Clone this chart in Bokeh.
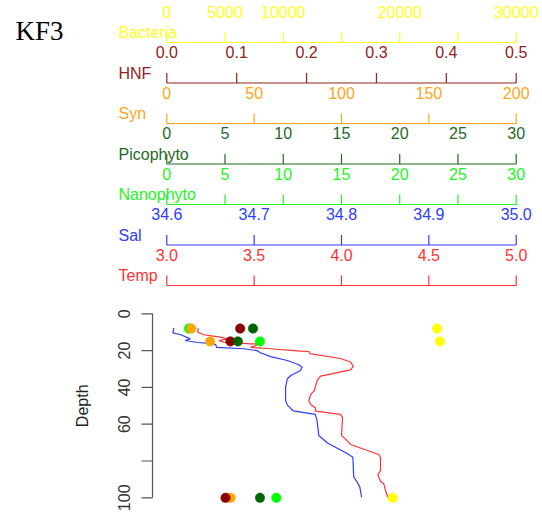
import math
from bokeh.plotting import figure
from bokeh.models import Range1d
from bokeh.core.properties import value
from bokeh.embed import file_html
from bokeh.resources import INLINE

# ---- station KF3: sample depths and counts ----
sample_depth = [8, 15, 100]
bacteria = [23200, 23450, 19400]
hnf = [0.105, 0.091, 0.084]
syn = [14.0, 24.8, 36.5]
picophyto = [7.4, 6.1, 8.0]
nanophyto = [1.9, 8.0, 9.4]

# ---- CTD profiles ----
temp_depth = [7.8, 10.0, 11.4, 12.7, 13.6, 14.5, 15.4, 15.8, 16.3, 16.3, 18.2, 19.0,
              20.3, 20.5, 21.6, 24.3, 26.2, 28.6, 30.5, 33.9, 36.3, 41.7, 43.9, 47.1,
              49.3, 51.1, 52.9, 54.7, 56.4, 66.1, 67.2, 71.0, 76.5, 78.1, 85.2, 87.3,
              91.0, 92.4, 96.0, 99.7]
temp = [3.180, 3.177, 3.212, 3.307, 3.346, 3.298, 3.326, 3.403, 3.479, 3.536, 3.479, 3.594,
        3.765, 3.813, 3.819, 3.994, 4.052, 4.067, 4.052, 3.880, 3.860, 3.845, 3.823, 3.813,
        3.823, 3.851, 3.851, 3.994, 4.006, 4.000, 4.013, 4.052, 4.213, 4.223, 4.223, 4.208,
        4.223, 4.242, 4.252, 4.265]
sal_depth = [7.6, 10.4, 11.4, 13.6, 14.5, 15.6, 16.1, 16.7, 18.3, 19.0, 20.0, 21.2,
             23.3, 25.4, 27.7, 29.0, 30.8, 33.5, 35.3, 39.9, 45.3, 47.1, 49.6, 52.8,
             54.7, 58.0, 66.1, 70.2, 76.1, 77.9, 88.8, 91.5, 94.2, 99.7]
sal = [34.608, 34.607, 34.616, 34.627, 34.621, 34.635, 34.650, 34.656, 34.657, 34.688,
       34.703, 34.707, 34.719, 34.738, 34.751, 34.755, 34.753, 34.742, 34.738, 34.736,
       34.736, 34.736, 34.738, 34.745, 34.770, 34.772, 34.774, 34.784, 34.807, 34.813,
       34.814, 34.818, 34.821, 34.823]

# ---- stacked scales: name, colour, limits, ticks, tick labels ----
scale_names = ["Bacteria", "HNF", "Syn", "Picophyto", "Nanophyto", "Sal", "Temp"]
scale_colors = ["#FFFF1A", "#932222", "#FFA51A", "#1F6A1F", "#22F522", "#2F3CFF", "#FF3333"]
scale_limits = [(0, 30000), (0.0, 0.5), (0, 200), (0, 30), (0, 30), (34.6, 35.0), (3.0, 5.0)]
scale_ticks = [
    [0, 5000, 10000, 15000, 20000, 25000, 30000],
    [0.0, 0.1, 0.2, 0.3, 0.4, 0.5],
    [0, 50, 100, 150, 200],
    [0, 5, 10, 15, 20, 25, 30],
    [0, 5, 10, 15, 20, 25, 30],
    [34.6, 34.7, 34.8, 34.9, 35.0],
    [3.0, 3.5, 4.0, 4.5, 5.0],
]
scale_label_at = [
    [0, 5000, 10000, 20000, 30000],
    [0.0, 0.1, 0.2, 0.3, 0.4, 0.5],
    [0, 50, 100, 150, 200],
    [0, 5, 10, 15, 20, 25, 30],
    [0, 5, 10, 15, 20, 25, 30],
    [34.6, 34.7, 34.8, 34.9, 35.0],
    [3.0, 3.5, 4.0, 4.5, 5.0],
]
scale_label_text = [
    ["0", "5000", "10000", "20000", "30000"],
    ["0.0", "0.1", "0.2", "0.3", "0.4", "0.5"],
    ["0", "50", "100", "150", "200"],
    ["0", "5", "10", "15", "20", "25", "30"],
    ["0", "5", "10", "15", "20", "25", "30"],
    ["34.6", "34.7", "34.8", "34.9", "35.0"],
    ["3.0", "3.5", "4.0", "4.5", "5.0"],
]
depth_ticks = [0, 20, 40, 60, 80, 100]
depth_labels = ["0", "20", "40", "60", "", "100"]

# point colours per group (same hues as the scales)
point_colors = {"Bacteria": "#FFFF00", "HNF": "#8B0000", "Syn": "#FFA500",
                "Picophyto": "#006400", "Nanophyto": "#00FF00"}

# ---- page geometry (pixels) ----
W, H = 542, 514
X0, X1 = 166.3, 515.7          # horizontal extent of every scale
D0, PX_PER_M = 313.3, 1.84     # depth 0 position and metres -> pixels
ROW0, ROW_STEP = 42.0, 40.5    # first scale line and spacing
TICK_LEN = 10
FONT = value("Liberation Sans")

p = figure(width=W, height=H, output_backend="svg", toolbar_location=None,
           x_range=Range1d(0, W), y_range=Range1d(H, 0),
           x_axis_location=None, y_axis_location=None, min_border=0)
p.grid.visible = False
p.outline_line_color = None
p.background_fill_color = "white"
p.border_fill_color = "white"


def span_range(lo, hi):
    k = (hi - lo) / (X1 - X0)
    return Range1d(lo - X0 * k, lo + (W - X0) * k)


for name, (lo, hi) in zip(scale_names, scale_limits):
    p.extra_x_ranges[name] = span_range(lo, hi)
p.extra_y_ranges["depth"] = Range1d((H - D0) / PX_PER_M, -D0 / PX_PER_M)

# ---- the stacked scales above the profile ----
for i, name in enumerate(scale_names):
    col = scale_colors[i]
    lo, hi = scale_limits[i]
    yl = ROW0 + i * ROW_STEP
    p.segment(x0=[lo], x1=[hi], y0=[yl], y1=[yl], x_range_name=name,
              line_color=col, line_width=1.2)
    tk = scale_ticks[i]
    p.segment(x0=tk, x1=tk, y0=[yl] * len(tk), y1=[yl - TICK_LEN] * len(tk),
              x_range_name=name, line_color=col, line_width=1.2)
    la = scale_label_at[i]
    p.text(x=la, y=[yl - 31] * len(la), text=scale_label_text[i], x_range_name=name,
           text_color=col, text_font=FONT, text_font_size="16px",
           text_align="center", text_baseline="middle")
    p.text(x=[118], y=[yl - 10], text=[name], text_color=col, text_font=FONT,
           text_font_size="16px", text_align="left", text_baseline="middle")

# ---- depth axis ----
axis_col = "#555555"
p.segment(x0=[152], x1=[152], y0=[0], y1=[100], y_range_name="depth",
          line_color=axis_col, line_width=1.2)
p.segment(x0=[141] * len(depth_ticks), x1=[152] * len(depth_ticks),
          y0=depth_ticks, y1=depth_ticks, y_range_name="depth",
          line_color=axis_col, line_width=1.2)
p.text(x=[123] * len(depth_ticks), y=depth_ticks, text=depth_labels, y_range_name="depth",
       angle=math.pi / 2, text_color="#333333", text_font=FONT, text_font_size="16px",
       text_align="center", text_baseline="middle")
p.text(x=[82], y=[50], text=["Depth"], y_range_name="depth", angle=math.pi / 2,
       text_color="#222222", text_font=FONT, text_font_size="16px",
       text_align="center", text_baseline="middle")

# ---- CTD profiles ----
p.line(x=sal, y=sal_depth, x_range_name="Sal", y_range_name="depth",
       line_color="#2F3CFF", line_width=1.2)
p.line(x=temp, y=temp_depth, x_range_name="Temp", y_range_name="depth",
       line_color="#FF3333", line_width=1.2)

# ---- sample points ----
for vals, name in [(nanophyto, "Nanophyto"), (syn, "Syn"), (hnf, "HNF"),
                   (picophyto, "Picophyto"), (bacteria, "Bacteria")]:
    col = point_colors[name]
    p.scatter(x=vals, y=sample_depth, x_range_name=name, y_range_name="depth",
              size=9.5, fill_color=col, line_color=col, line_width=0.5)

# ---- station label ----
p.text(x=[15], y=[30], text=["KF3"], text_color="black",
       text_font=value("Liberation Serif"), text_font_size="27px",
       text_align="left", text_baseline="middle")

open("out.html", "w").write(file_html(p, INLINE))
